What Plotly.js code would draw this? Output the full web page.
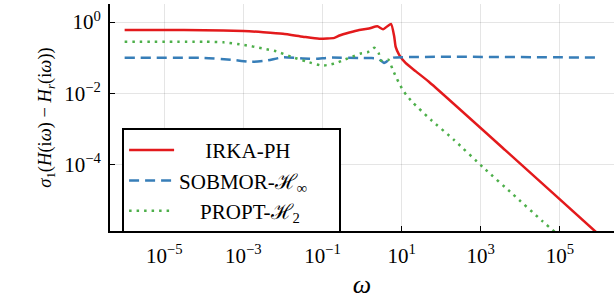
<!DOCTYPE html>
<html>
<head>
<meta charset="utf-8">
<script src="https://cdn.plot.ly/plotly-3.0.1.min.js"></script>
<style>
html,body{margin:0;padding:0;background:#fff}
#plot{width:614px;height:302px}
#plot svg text{font-family:"Liberation Serif","DejaVu Serif",serif !important}
</style>
</head>
<body>
<div id="plot"></div>
<script>
// ---- data ----
const irkaW = [1e-6, 1e-5, 1e-4, 1e-3, 3.2e-3, 1e-2, 3.2e-2, 0.083, 0.2, 0.27, 0.48, 0.85, 1.5, 2.45, 3.4, 5.4, 6.5, 7.1, 8.7, 12.6, 23, 49, 4170, 7.8e5, 1e6];
const irkaS = [0.60, 0.60, 0.59, 0.56, 0.52, 0.47, 0.39, 0.34, 0.36, 0.42, 0.51, 0.60, 0.66, 0.76, 0.63, 0.89, 0.40, 0.20, 0.12, 0.071, 0.041, 0.021, 2.5e-4, 1.3e-6, 1e-6];

const sobW = [1e-6, 1e-4, 5e-4, 1.6e-3, 4e-3, 1e-2, 3.2e-2, 0.07, 0.15, 1, 1.5, 2.5, 3.6, 4, 5, 6.3, 1e6];
const sobS = [0.10, 0.098, 0.087, 0.076, 0.083, 0.102, 0.095, 0.093, 0.10, 0.098, 0.097, 0.095, 0.071, 0.075, 0.09, 0.10, 0.10];

const proW = [1e-6, 1e-4, 3.16e-4, 1e-3, 3.16e-3, 6.8e-3, 0.0158, 0.039, 0.095, 0.148, 0.24, 0.355, 0.575, 0.89, 1.38, 2.04, 2.63, 3.02, 3.63, 4.68, 5.89, 7.08, 8.91, 11, 14.5, 20, 27.5, 55, 209, 1200, 6600, 3.63e4, 1e6];
const proS = [0.28, 0.28, 0.27, 0.23, 0.18, 0.15, 0.107, 0.078, 0.060, 0.063, 0.072, 0.087, 0.107, 0.129, 0.141, 0.19, 0.135, 0.083, 0.087, 0.087, 0.048, 0.030, 0.018, 0.0117, 0.0078, 0.0052, 0.0037, 0.00178, 4.9e-4, 7.8e-5, 1.41e-5, 2.5e-6, 1e-7];

const names = ["\u00a0\u00a0\u00a0\u00a0\u00a0IRKA-PH", "SOBMOR-ℋ<sub>∞</sub>\u00a0\u00a0\u00a0\u00a0\u00a0", "\u00a0\u00a0\u00a0\u00a0PROPT-ℋ<sub>2</sub>"];

const xTickVals = [1e-5, 1e-3, 1e-1, 1e1, 1e3, 1e5];
const xTickText = ["10<sup>−5</sup>", "10<sup>−3</sup>", "10<sup>−1</sup>", "10<sup>1</sup>", "10<sup>3</sup>", "10<sup>5</sup>"];
const yTickVals = [1e-4, 1e-2, 1e0];
const yTickText = ["10<sup>−4</sup>", "10<sup>−2</sup>", "10<sup>0</sup>"];

// ---- plot ----
const SERIF = "Liberation Serif, DejaVu Serif, serif";
const traces = [
  {x: irkaW, y: irkaS, name: names[0], mode: "lines", line: {color: "rgb(227,26,28)", width: 2.5, shape: "spline", smoothing: 0.5}},
  {x: sobW, y: sobS, name: names[1], mode: "lines", line: {color: "rgb(55,126,184)", width: 2.5, dash: "10px,6px", shape: "spline", smoothing: 0.5}},
  {x: proW, y: proS, name: names[2], mode: "lines", line: {color: "rgb(77,175,74)", width: 2.5, dash: "2.5px,5px", shape: "spline", smoothing: 0.5}}
];
const layout = {
  width: 614, height: 302,
  margin: {l: 110, r: 0, t: 4, b: 71},
  font: {family: SERIF, color: "black"},
  showlegend: true,
  xaxis: {
    type: "log", range: [-6.37, 6.37], tickmode: "array", tickvals: xTickVals, ticktext: xTickText,
    showline: true, linecolor: "black", linewidth: 2,
    ticks: "inside", ticklen: 5, tickwidth: 1, tickcolor: "black", ticklabelstandoff: 5,
    showgrid: true, gridcolor: "rgba(0,0,0,0.1)", gridwidth: 1, zeroline: false,
    tickfont: {family: SERIF, size: 21, color: "black"},
    title: {text: "<i>ω</i>", font: {family: SERIF, size: 26, color: "black"}, standoff: 8}
  },
  yaxis: {
    type: "log", range: [-5.88, 0.51], tickmode: "array", tickvals: yTickVals, ticktext: yTickText,
    showline: true, linecolor: "black", linewidth: 2,
    ticks: "inside", ticklen: 5, tickwidth: 1, tickcolor: "black", ticklabelstandoff: 3,
    showgrid: true, gridcolor: "rgba(0,0,0,0.1)", gridwidth: 1, zeroline: false,
    tickfont: {family: SERIF, size: 21, color: "black"},
    title: {text: "<i>σ</i><sub>1</sub>(<i>H</i>(i<i>ω</i>) − <i>H</i><sub><i>r</i></sub>(i<i>ω</i>))", font: {family: SERIF, size: 18.5, color: "black"}, standoff: 8}
  },
  legend: {
    x: 0.024, y: 0.454, xanchor: "left", yanchor: "top",
    bgcolor: "white", bordercolor: "black", borderwidth: 2,
    font: {family: SERIF, size: 21, color: "black"},
    itemwidth: 45, tracegroupgap: 0
  }
};
Plotly.newPlot("plot", traces, layout, {staticPlot: true});
</script>
</body>
</html>
